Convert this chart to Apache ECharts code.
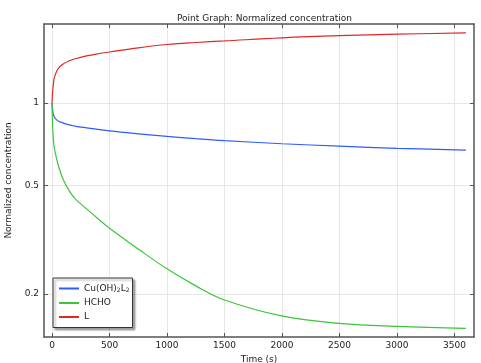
<!DOCTYPE html>
<html><head><meta charset="utf-8">
<script src="https://cdn.jsdelivr.net/npm/echarts@6/dist/echarts.min.js"></script>
<style>html,body{margin:0;padding:0;background:#fff}#c{width:481px;height:363px}</style>
</head><body><div id="c"></div>
<script>
const time = [0, 2, 5, 10, 20, 40, 60, 100, 150, 200, 300, 400, 500, 750, 1000, 1250, 1500, 2000, 2500, 3000, 3600];
const cuValues = [1, 0.97, 0.945, 0.915, 0.89, 0.868, 0.857, 0.845, 0.832, 0.824, 0.812, 0.801, 0.791, 0.772, 0.755, 0.741, 0.729, 0.710, 0.696, 0.683, 0.673];
const hchoValues = [1, 0.9, 0.82, 0.75, 0.685, 0.625, 0.58, 0.522, 0.477, 0.447, 0.41, 0.377, 0.348, 0.292, 0.247, 0.214, 0.190, 0.166, 0.156, 0.152, 0.1495];
const lValues = [1, 1.06, 1.1, 1.16, 1.24, 1.31, 1.35, 1.395, 1.43, 1.455, 1.49, 1.517, 1.54, 1.595, 1.64, 1.668, 1.69, 1.735, 1.767, 1.789, 1.81];
const xTicks = [0, 500, 1000, 1500, 2000, 2500, 3000, 3500];
const yTicks = [0.2, 0.5, 1];
const seriesNames = ['Cu(OH)2L2', 'HCHO', 'L'];

const pair = v => time.map((t, i) => [t, v[i]]);
const font = 'DejaVu Sans';
const axisCol = '#555';
const chart = echarts.init(document.getElementById('c'));
chart.setOption({
  animation: false,
  title: { text: 'Point Graph: Normalized concentration', left: 172, top: 9,
    textStyle: { fontFamily: font, fontSize: 9, fontWeight: 'normal', color: '#222' } },
  grid: { left: 44, right: 7, top: 24, bottom: 26, containLabel: false, outerBoundsMode: 'none' },
  legend: {
    orient: 'vertical', left: 53, top: 278, itemWidth: 20, itemHeight: 2, itemGap: 5,
    padding: [6, 3, 6, 6], borderColor: '#333', borderWidth: 1, backgroundColor: '#fff',
    shadowColor: 'rgba(0,0,0,0.35)', shadowOffsetX: 2, shadowOffsetY: 2, shadowBlur: 2,
    icon: 'rect',
    data: seriesNames,
    formatter: n => n === 'Cu(OH)2L2' ? '{a|Cu(OH)}{s|2}{a|L}{s|2}' : '{a|' + n + '}',
    textStyle: { fontFamily: font, fontSize: 9, color: '#222',
      rich: { a: { fontFamily: font, fontSize: 9, color: '#222' },
              s: { fontFamily: font, fontSize: 6, color: '#222', padding: [4, 0, 0, 0] } } }
  },
  xAxis: [{
    type: 'value', min: -70, max: 3670, name: 'Time (s)', nameLocation: 'middle', nameGap: 12,
    nameTextStyle: { fontFamily: font, fontSize: 9, color: '#222' },
    axisLine: { show: true, onZero: false, lineStyle: { color: axisCol, width: 1.5 } },
    axisTick: { show: true, inside: true, length: 4, customValues: xTicks, lineStyle: { color: axisCol } },
    axisLabel: { customValues: xTicks, formatter: v => String(v), fontFamily: font, fontSize: 9, color: '#222', margin: 4 },
    splitLine: { show: true, lineStyle: { color: '#e6e6e6', width: 1 } }
  }, {
    type: 'value', position: 'top', min: -70, max: 3670,
    axisLine: { show: true, onZero: false, lineStyle: { color: axisCol, width: 1.5 } },
    axisTick: { show: true, inside: true, length: 4, customValues: xTicks, lineStyle: { color: axisCol } },
    axisLabel: { show: false }, splitLine: { show: false }
  }],
  yAxis: [{
    type: 'log', logBase: 10, min: 0.139, max: 1.95, name: 'Normalized concentration',
    nameLocation: 'middle', nameGap: 31,
    nameTextStyle: { fontFamily: font, fontSize: 9, color: '#222' },
    axisLine: { show: true, onZero: false, lineStyle: { color: axisCol, width: 1.5 } },
    axisTick: { show: true, inside: true, length: 4, customValues: yTicks, lineStyle: { color: axisCol } },
    axisLabel: { customValues: yTicks, fontFamily: font, fontSize: 9, color: '#222', margin: 5 },
    splitLine: { show: true, lineStyle: { color: '#e6e6e6', width: 1 } }
  }, {
    type: 'log', logBase: 10, min: 0.139, max: 1.95, position: 'right',
    axisLine: { show: true, onZero: false, lineStyle: { color: axisCol, width: 1.5 } },
    axisTick: { show: true, inside: true, length: 4, customValues: yTicks, lineStyle: { color: axisCol } },
    axisLabel: { show: false }, splitLine: { show: false }
  }],
  series: [
    { name: seriesNames[0], type: 'line', data: pair(cuValues), smooth: 0.4, showSymbol: false, lineStyle: { color: '#2d5cff', width: 1.2 }, itemStyle: { color: '#2d5cff' } },
    { name: seriesNames[1], type: 'line', data: pair(hchoValues), smooth: 0.4, showSymbol: false, lineStyle: { color: '#3cc43c', width: 1.2 }, itemStyle: { color: '#3cc43c' } },
    { name: seriesNames[2], type: 'line', data: pair(lValues), smooth: 0.4, showSymbol: false, lineStyle: { color: '#e02828', width: 1.2 }, itemStyle: { color: '#e02828' } }
  ]
});
</script></body></html>
